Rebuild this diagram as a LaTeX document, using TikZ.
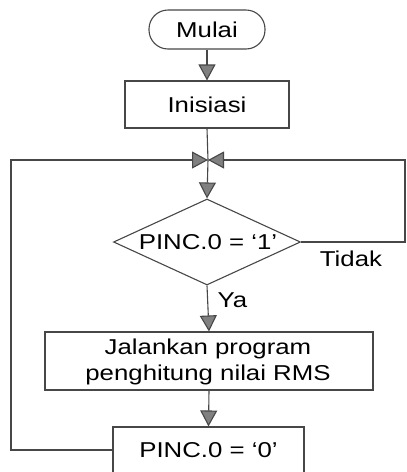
\documentclass[tikz,border=0pt]{standalone}
\usepackage{fontspec}
\setmainfont{Liberation Sans}
\usepackage{graphicx}
\usetikzlibrary{arrows.meta,shapes.geometric}
% text is set slightly wide
\newcommand{\wtxt}[1]{\scalebox{1.2}[1]{#1}}
\tikzset{
  line/.style={draw=black!72, line width=1.1pt},
  flow/.style={line, -{Triangle[length=16pt,width=17pt,fill=black!50]}},
  procbox/.style={line, rectangle, inner sep=0pt},
  termbox/.style={line, rectangle, rounded corners=19pt, inner sep=0pt},
  decbox/.style={line, diamond, inner sep=0pt},
  label/.style={font=\fontsize{21.5}{26}\selectfont, inner sep=0pt, align=center},
}
\begin{document}
\begin{tikzpicture}[x=1pt,y=-1pt]
  \useasboundingbox (0,0) rectangle (407,472);

  % shapes
  \node[termbox, minimum width=116pt, minimum height=39pt] (mulai) at (207,29.5) {};
  \node[label] (tmulai) at (207,29.5) {\wtxt{Mulai}};

  \node[procbox, minimum width=164pt, minimum height=47pt] (init) at (207,104.5) {};
  \node[label] (tinit) at (207,105) {\wtxt{Inisiasi}};

  \coordinate (J) at (208,160);

  \node[decbox, minimum width=187pt, minimum height=86pt] (dec) at (207,242) {};
  \node[label] (tdec) at (208,242) {\wtxt{PINC.0 = ‘1’}};

  \node[procbox, minimum width=328pt, minimum height=58pt] (run) at (209,361) {};
  \node[label] (trun) at (208,362) {\wtxt{Jalankan program}\\\wtxt{penghitung nilai RMS}};

  \node[procbox, minimum width=191pt, minimum height=46pt] (pinc) at (208.5,450) {};
  \node[label] (tpinc) at (208.5,450) {\wtxt{PINC.0 = ‘0’}};

  % loop corners
  \coordinate (lft) at (11,160);
  \coordinate (rgt) at (405,160);

  % connectors
  \draw[flow] (mulai.south) -- (init.north);
  \draw[line] (init.south) -- (J);
  \draw[flow] (J) -- (dec.north);
  \draw[flow] (dec.south) -- (run.north);
  \draw[flow] (run.south) -- (pinc.north);
  \draw[flow] (pinc.west) -| (lft) -- (J);
  \draw[flow] (dec.east) -| (rgt) -- (J);

  % branch labels
  \node[label, anchor=base] (ya) at (232.5,307) {\wtxt{Ya}};
  \node[label, anchor=base] (tidak) at (351,266) {\wtxt{Tidak}};
\end{tikzpicture}
\end{document}
